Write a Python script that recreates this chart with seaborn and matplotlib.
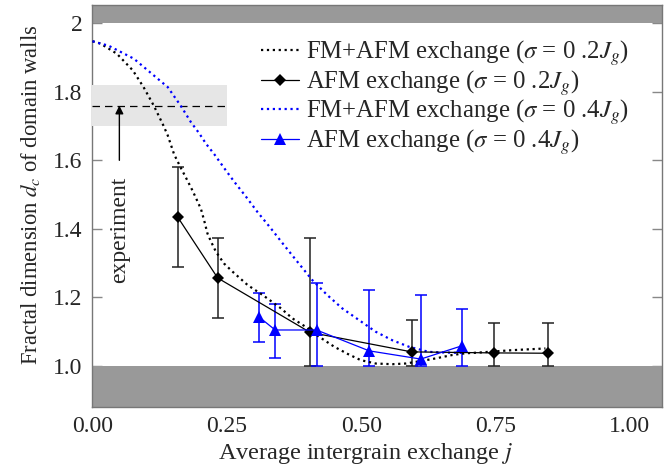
import numpy as np
import pandas as pd
import matplotlib
matplotlib.use("Agg")
import matplotlib.pyplot as plt
import seaborn as sns

# FM+AFM exchange, sigma = 0.2 J_g (black dotted curve)
fm02_j = [0.000, 0.015, 0.045, 0.075, 0.095, 0.114, 0.131, 0.140, 0.152, 0.165,
          0.174, 0.186, 0.196, 0.202, 0.208, 0.214, 0.221, 0.230, 0.245, 0.261,
          0.289, 0.317, 0.351, 0.372, 0.397, 0.422, 0.450, 0.475, 0.499, 0.527,
          0.558, 0.583, 0.614, 0.639, 0.670, 0.695, 0.719, 0.781, 0.843]
fm02_d = [1.948, 1.941, 1.912, 1.863, 1.814, 1.760, 1.705, 1.673, 1.617, 1.576,
          1.549, 1.512, 1.478, 1.457, 1.423, 1.386, 1.361, 1.332, 1.298, 1.274,
          1.235, 1.206, 1.167, 1.138, 1.113, 1.084, 1.055, 1.034, 1.016, 1.006,
          1.004, 1.006, 1.014, 1.021, 1.031, 1.036, 1.038, 1.045, 1.050]

# FM+AFM exchange, sigma = 0.4 J_g (blue dotted curve)
fm04_j = [0.000, 0.030, 0.077, 0.140, 0.164, 0.183, 0.199, 0.211, 0.227, 0.248,
          0.264, 0.286, 0.307, 0.332, 0.354, 0.379, 0.394, 0.409, 0.437, 0.465,
          0.496, 0.527, 0.558, 0.589, 0.626, 0.657, 0.690]
fm04_d = [1.948, 1.935, 1.897, 1.814, 1.760, 1.712, 1.678, 1.649, 1.617, 1.571,
          1.537, 1.493, 1.449, 1.401, 1.357, 1.308, 1.279, 1.250, 1.206, 1.167,
          1.133, 1.099, 1.074, 1.055, 1.040, 1.038, 1.037]

# AFM exchange, sigma = 0.2 J_g (black diamonds with error bars)
afm02_j = [0.159, 0.233, 0.405, 0.594, 0.747, 0.847]
afm02_d = [1.433, 1.256, 1.097, 1.040, 1.037, 1.036]
afm02_hi = [1.580, 1.373, 1.373, 1.132, 1.123, 1.125]
afm02_lo = [1.287, 1.140, 1.000, 1.000, 1.000, 1.000]

# AFM exchange, sigma = 0.4 J_g (blue triangles with error bars)
afm04_j = [0.310, 0.340, 0.417, 0.515, 0.611, 0.688]
afm04_d = [1.142, 1.104, 1.104, 1.043, 1.019, 1.058]
afm04_hi = [1.211, 1.181, 1.240, 1.222, 1.205, 1.164]
afm04_lo = [1.068, 1.022, 1.000, 1.000, 1.000, 1.000]

# experimental value and its uncertainty band
exp_value = 1.76
exp_band = (1.70, 1.82)

x_ticks = [0.00, 0.25, 0.50, 0.75, 1.00]
x_labels = ["0.00", "0.25", "0.50", "0.75", "1.00"]
y_ticks = [1.0, 1.2, 1.4, 1.6, 1.8, 2.0]
y_labels = ["1.0", "1.2", "1.4", "1.6", "1.8", "2"]

labels = [r"FM+AFM exchange ($\sigma$ = 0 .2$J_g$)",
          r"AFM exchange ($\sigma$ = 0 .2$J_g$)",
          r"FM+AFM exchange ($\sigma$ = 0 .4$J_g$)",
          r"AFM exchange ($\sigma$ = 0 .4$J_g$)"]

sns.set_theme(style="white")
plt.rcParams["font.family"] = ["Liberation Serif", "DejaVu Serif"]
plt.rcParams["mathtext.fontset"] = "stix"
FS_TICK = 17
FS_XLAB = 17.5
FS_YLAB = 16.3
FS_LEG = 17.8

W, H = 671, 468
fig = plt.figure(figsize=(W / 100, H / 100), dpi=100)
ax = fig.add_axes([92.5 / W, 1 - 407.3 / H, (662 - 92.5) / W, (407.3 - 5) / H])

ax.set_xlim(0, 1.06)
ax.set_ylim(0.878, 2.054)

# forbidden regions above 2 and below 1
ax.axhspan(2.0, 2.2, color="#999999", lw=0, zorder=1)
ax.axhspan(0.5, 1.0, color="#999999", lw=0, zorder=1)

# experiment band, dashed value and arrow
ax.fill_between([0, 0.25], exp_band[0], exp_band[1], color="#e6e6e6", lw=0, zorder=3)
ax.plot([0, 0.25], [exp_value, exp_value], color="black", lw=0.9,
        dashes=(6, 4), zorder=3.5)
ax.annotate("", xy=(0.05, exp_value), xytext=(0.05, 1.60),
            arrowprops=dict(arrowstyle="-|>", color="black", lw=1.0,
                            mutation_scale=12, shrinkA=0, shrinkB=0),
            zorder=4)
ax.text(0.05, 1.398, "experiment", rotation=90, ha="center", va="center",
        fontsize=FS_TICK, zorder=4)

fm02 = pd.DataFrame({"j": fm02_j, "d": fm02_d})
fm04 = pd.DataFrame({"j": fm04_j, "d": fm04_d})
afm02 = pd.DataFrame({"j": afm02_j, "d": afm02_d})
afm04 = pd.DataFrame({"j": afm04_j, "d": afm04_d})

# error bars
ax.errorbar(afm02_j, afm02_d,
            yerr=[np.array(afm02_d) - np.array(afm02_lo),
                  np.array(afm02_hi) - np.array(afm02_d)],
            fmt="none", ecolor="#222222", elinewidth=1.1, capsize=4.5,
            capthick=1.1, zorder=5)
ax.errorbar(afm04_j, afm04_d,
            yerr=[np.array(afm04_d) - np.array(afm04_lo),
                  np.array(afm04_hi) - np.array(afm04_d)],
            fmt="none", ecolor="#0000ff", elinewidth=1.1, capsize=4.5,
            capthick=1.1, zorder=5)

sns.lineplot(data=fm02, x="j", y="d", ax=ax, color="black", lw=1.6,
             linestyle=":", sort=False, label=labels[0], zorder=6)
sns.lineplot(data=afm02, x="j", y="d", ax=ax, color="black", lw=0.9,
             marker="D", markersize=6, markeredgewidth=0, sort=False,
             label=labels[1], zorder=7)
sns.lineplot(data=fm04, x="j", y="d", ax=ax, color="#0000ff", lw=1.6,
             linestyle=":", sort=False, label=labels[2], zorder=6)
sns.lineplot(data=afm04, x="j", y="d", ax=ax, color="#0000ff", lw=0.9,
             marker="^", markersize=8, markeredgewidth=0, sort=False,
             label=labels[3], zorder=7)

ax.set_xticks(x_ticks)
ax.set_xticklabels(x_labels)
ax.set_yticks(y_ticks)
ax.set_yticklabels(y_labels)
ax.tick_params(axis="y", direction="in", length=7, width=1, color="#888888",
               left=True, right=True, labelsize=FS_TICK, pad=7)
ax.tick_params(axis="x", length=0, labelsize=FS_TICK, pad=6)

for side in ["left", "right", "top", "bottom"]:
    ax.spines[side].set_color("#777777")
    ax.spines[side].set_linewidth(1.0)

ax.set_xlabel(r"Average intergrain exchange $j$", fontsize=FS_XLAB, labelpad=1)
ax.xaxis.set_label_coords(0.48, -0.085)
ax.set_ylabel(r"Fractal dimension $d_c$ of domain walls", fontsize=FS_YLAB)
ax.yaxis.set_label_coords(-0.088, 0.527)

leg = ax.legend(loc="upper left", bbox_to_anchor=(261 / W, 1 - 38 / H),
                bbox_transform=fig.transFigure, frameon=False, fontsize=FS_LEG,
                handlelength=1.55, handletextpad=0.25, labelspacing=0.0,
                borderpad=0, borderaxespad=0)
leg.set_zorder(10)

fig.savefig("out.png", dpi=100)
